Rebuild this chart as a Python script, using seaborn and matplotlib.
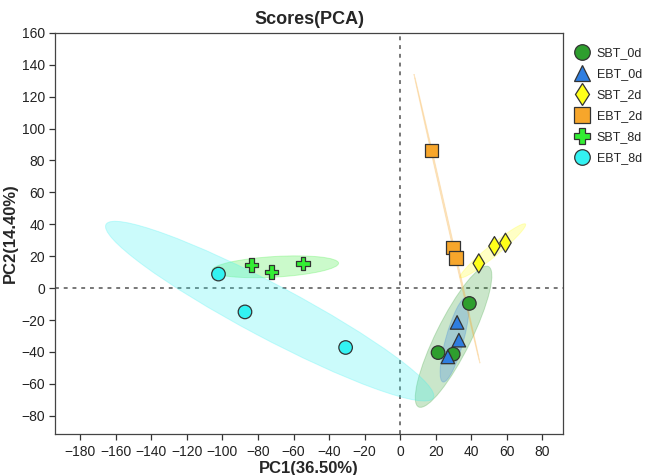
import numpy as np
import pandas as pd
import matplotlib
matplotlib.use("Agg")
import matplotlib.pyplot as plt
from matplotlib.patches import Ellipse
import seaborn as sns

# group names, colours, markers
groups = ["SBT_0d", "EBT_0d", "SBT_2d", "EBT_2d", "SBT_8d", "EBT_8d"]
colors = ["#2e9e2e", "#2f7ee0", "#ffff1a", "#f7a62b", "#33ee33", "#33f2f2"]
markers = ["o", "^", "d", "s", "P", "o"]

# PCA scores
pc1 = {
    "SBT_0d": [38.9, 21.3, 29.8],
    "EBT_0d": [32.0, 33.0, 26.8],
    "SBT_2d": [44.2, 53.0, 59.2],
    "EBT_2d": [17.6, 29.8, 31.5],
    "SBT_8d": [-83.5, -72.5, -54.7],
    "EBT_8d": [-102.2, -87.3, -30.7],
}
pc2 = {
    "SBT_0d": [-9.6, -40.4, -41.4],
    "EBT_0d": [-21.5, -32.6, -43.1],
    "SBT_2d": [15.5, 26.3, 28.4],
    "EBT_2d": [86.1, 25.5, 19.0],
    "SBT_8d": [14.4, 10.2, 15.5],
    "EBT_8d": [8.8, -14.9, -37.2],
}

x_ticks = list(range(-180, 81, 20))
y_ticks = list(range(-80, 161, 20))

rows = []
for g in groups:
    for a, b in zip(pc1[g], pc2[g]):
        rows.append({"PC1": a, "PC2": b, "group": g})
df = pd.DataFrame(rows)

sns.set_style("white")
plt.rcParams["font.family"] = ["Liberation Sans", "DejaVu Sans"]

fig = plt.figure(figsize=(6.5, 4.75), dpi=100)
ax = fig.add_axes([0.085, 0.086, 0.781, 0.845])

# 95% confidence ellipses
chi2_95 = 5.991
for g, c in zip(groups, colors):
    pts = np.column_stack([pc1[g], pc2[g]])
    mu = pts.mean(axis=0)
    cov = np.cov(pts, rowvar=False)
    vals, vecs = np.linalg.eigh(cov)
    order = vals.argsort()[::-1]
    vals, vecs = vals[order], vecs[:, order]
    ang = np.degrees(np.arctan2(vecs[1, 0], vecs[0, 0]))
    w, h = 2 * np.sqrt(chi2_95 * np.clip(vals, 0, None))
    e = Ellipse(mu, w, h, angle=ang, facecolor=c, edgecolor=c,
                alpha=0.25, lw=0.7, zorder=1)
    ax.add_patch(e)

ax.axvline(0, color="#777777", ls=(0, (2, 2.5)), lw=1.4, zorder=0.5)
ax.axhline(0, color="#777777", ls=(0, (2, 2.5)), lw=1.4, zorder=0.5)

sns.scatterplot(data=df, x="PC1", y="PC2", hue="group", style="group",
                hue_order=groups, style_order=groups,
                palette=dict(zip(groups, colors)),
                markers=dict(zip(groups, markers)),
                s=95, edgecolor="#333333", linewidth=0.9, ax=ax, zorder=3)

ax.set_xlim(-194, 91.5)
ax.set_ylim(-91.5, 160)
ax.set_xticks(x_ticks)
ax.set_yticks(y_ticks)
ax.tick_params(axis="both", direction="out", length=4, width=0.9,
               colors="#333333", labelsize=10, labelcolor="#222222",
               left=True, bottom=True)
for sp in ax.spines.values():
    sp.set_color("#444444")
    sp.set_linewidth(0.9)

ax.set_xlabel("PC1(36.50%)", fontsize=12, fontweight="bold", labelpad=2)
ax.set_ylabel("PC2(14.40%)", fontsize=12, fontweight="bold", labelpad=2)
ax.set_title("Scores(PCA)", fontsize=13, fontweight="bold", pad=6)

leg = ax.legend(loc="upper left", bbox_to_anchor=(1.005, 0.985), frameon=False,
                fontsize=9, markerscale=1.15, handlelength=1.2,
                handletextpad=0.6, labelspacing=0.72, borderaxespad=0.3)

fig.savefig("out.png", dpi=100)
